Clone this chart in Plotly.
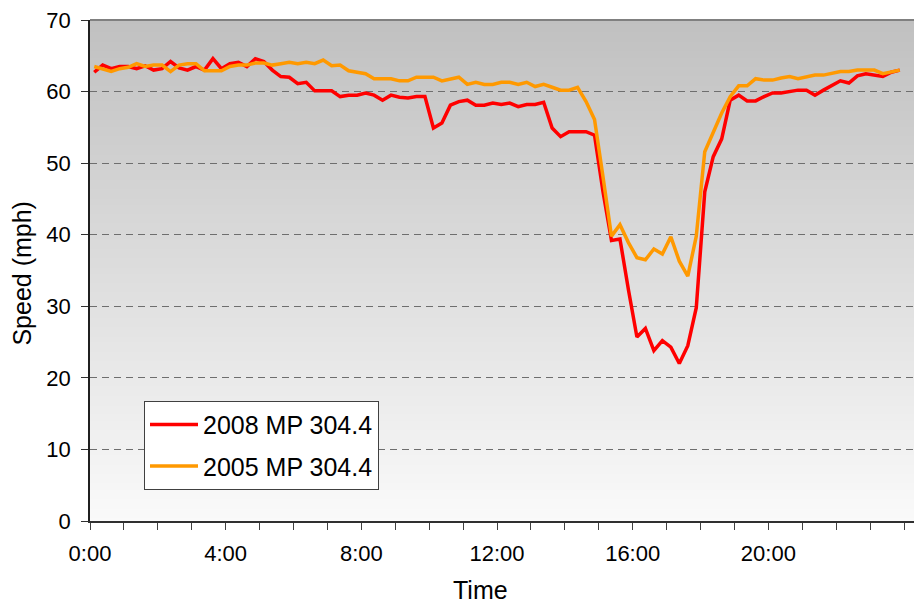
import plotly.graph_objects as go

# ---------------- data ----------------
interval_min = 15
n_points = 96
times_h = [(i * interval_min + interval_min / 2) / 60 for i in range(n_points)]

speed_2008 = [62.7, 63.7, 63.2, 63.5, 63.5, 63.2, 63.6, 63.0, 63.2, 64.2, 63.3, 63.0, 63.5, 63.0,
              64.6, 63.2, 63.9, 64.1, 63.5, 64.6, 64.2, 63.0, 62.1, 62.0, 61.1, 61.3, 60.1, 60.1,
              60.1, 59.3, 59.5, 59.5, 59.8, 59.5,
              58.8, 59.5, 59.2, 59.1, 59.3, 59.3, 54.9, 55.6, 58.1, 58.6, 58.8, 58.1, 58.1, 58.4,
              58.2, 58.4, 57.9, 58.2, 58.2, 58.5, 54.9, 53.7, 54.4, 54.4, 54.4, 53.9,
              46.0, 39.2, 39.4, 32.3, 25.7, 26.9, 23.8, 25.2, 24.3, 22.0, 24.5, 29.8,
              46.0, 50.9, 53.4, 58.8, 59.5, 58.7, 58.7, 59.3, 59.8, 59.8, 60.0, 60.2, 60.2, 59.5,
              60.2, 60.9, 61.5, 61.2, 62.2, 62.5, 62.3, 62.1, 62.7, 63.0]

speed_2005 = [63.5, 63.2, 62.8, 63.2, 63.4, 63.9, 63.5, 63.7, 63.7, 62.8, 63.7, 63.9, 63.9, 62.9,
              62.9, 62.9, 63.5, 63.7, 63.7, 64.0, 64.0, 63.7, 63.9, 64.1, 63.9, 64.1, 63.9, 64.4,
              63.6, 63.7, 62.9, 62.7, 62.5, 61.8,
              61.8, 61.8, 61.5, 61.5, 62.0, 62.0, 62.0, 61.5, 61.8, 62.0, 61.0, 61.3, 61.0, 61.0,
              61.3, 61.3, 61.0, 61.3, 60.7, 61.0, 60.6, 60.2, 60.2, 60.6, 58.6, 56.1,
              48.1, 39.8, 41.4, 38.9, 36.8, 36.5, 38.0, 37.3, 39.7, 36.3, 34.2, 39.8,
              51.6, 54.4, 57.0, 59.3, 60.8, 60.8, 61.8, 61.6, 61.6, 61.9, 62.1, 61.8, 62.1, 62.3,
              62.3, 62.5, 62.8, 62.8, 63.0, 63.0, 63.0, 62.5, 62.8, 63.0]

series_names = ["2008 MP 304.4", "2005 MP 304.4"]
x_tick_vals = [0, 4, 8, 12, 16, 20]
x_tick_text = ["0:00", "4:00", "8:00", "12:00", "16:00", "20:00"]
y_tick_vals = [0, 10, 20, 30, 40, 50, 60, 70]

# ---------------- figure ----------------
FONT = "Liberation Sans, Arial, sans-serif"
OFF = 8                      # page body margin offset in the browser
W, H = 922 - OFF, 605 - OFF
PL, PT, PR, PB = 90, 17, 922, 520.8   # plot area in screen pixels
ML, MT = PL - OFF, PT - OFF
MR = 0
MB = H - (PB - OFF)
plot_w = W - ML - MR
plot_h = H - MT - MB


def px_x(sx):
    return (sx - PL) / plot_w


def px_y(sy):
    return (PB - sy) / plot_h


fig = go.Figure()
fig.add_trace(go.Scatter(x=times_h, y=speed_2008, mode="lines", name=series_names[0],
                         legendgroup="a", line=dict(color="#FF0000", width=3.5)))
fig.add_trace(go.Scatter(x=times_h, y=speed_2005, mode="lines", name=series_names[1],
                         legendgroup="b", line=dict(color="#FF9900", width=3.5)))

# vertical gradient background (gray at top to near-white at bottom)
n_bands = 160
shapes = []
for k in range(n_bands):
    f = (k + 0.5) / n_bands  # 0 bottom -> 1 top
    c = round(250 - 58 * f)
    shapes.append(dict(type="rect", xref="paper", yref="paper", x0=0, x1=1,
                       y0=k / n_bands, y1=(k + 1) / n_bands + 0.002, layer="below",
                       line=dict(width=0), fillcolor=f"rgb({c},{c},{c})"))
shapes.append(dict(type="line", xref="paper", yref="paper", x0=0, x1=1, y0=1, y1=1,
                   line=dict(color="#808080", width=2), layer="above"))
fig.update_layout(shapes=shapes)

fig.update_layout(
    width=W, height=H,
    margin=dict(l=ML, r=MR, t=MT, b=MB, pad=0),
    paper_bgcolor="white", plot_bgcolor="white",
    font=dict(family=FONT, size=22, color="black"),
    showlegend=True,
    legend=dict(x=px_x(144), y=px_y(400), xanchor="left", yanchor="top",
                bgcolor="white", bordercolor="#404040", borderwidth=1,
                font=dict(family=FONT, size=25, color="black"),
                itemwidth=48,
                traceorder="grouped", tracegroupgap=6),
    xaxis=dict(range=[0, 24.53], tickmode="array", tickvals=x_tick_vals, ticktext=x_tick_text,
               ticks="outside", ticklen=7, tickcolor="#404040", tickwidth=1,
               minor=dict(dtick=1, tick0=0, ticks="outside", ticklen=7, tickcolor="#404040",
                          showgrid=False),
               showline=True, linecolor="#303030", linewidth=1.5, showgrid=False, zeroline=False,
               ticklabelstandoff=5, ticklabeloverflow="allow", tickfont=dict(size=22)),
    yaxis=dict(range=[0, 70], tickmode="array", tickvals=y_tick_vals,
               ticks="outside", ticklen=7, tickcolor="#303030", tickwidth=1,
               showline=True, linecolor="#202020", linewidth=1.5,
               showgrid=True, gridcolor="#6e6e6e", gridwidth=1, griddash="7px,5px",
               zeroline=False, ticklabelstandoff=6, ticklabeloverflow="allow",
               tickfont=dict(size=22)),
    annotations=[
        dict(text="Time", xref="paper", yref="paper", x=px_x(480), y=px_y(590),
             xanchor="center", yanchor="middle", showarrow=False,
             font=dict(family=FONT, size=25, color="black")),
        dict(text="Speed (mph)", xref="paper", yref="paper", x=px_x(22), y=px_y(272),
             xanchor="center", yanchor="middle", showarrow=False,
             textangle=-90, font=dict(family=FONT, size=25, color="black")),
    ],
)

fig.write_html("out.html")
